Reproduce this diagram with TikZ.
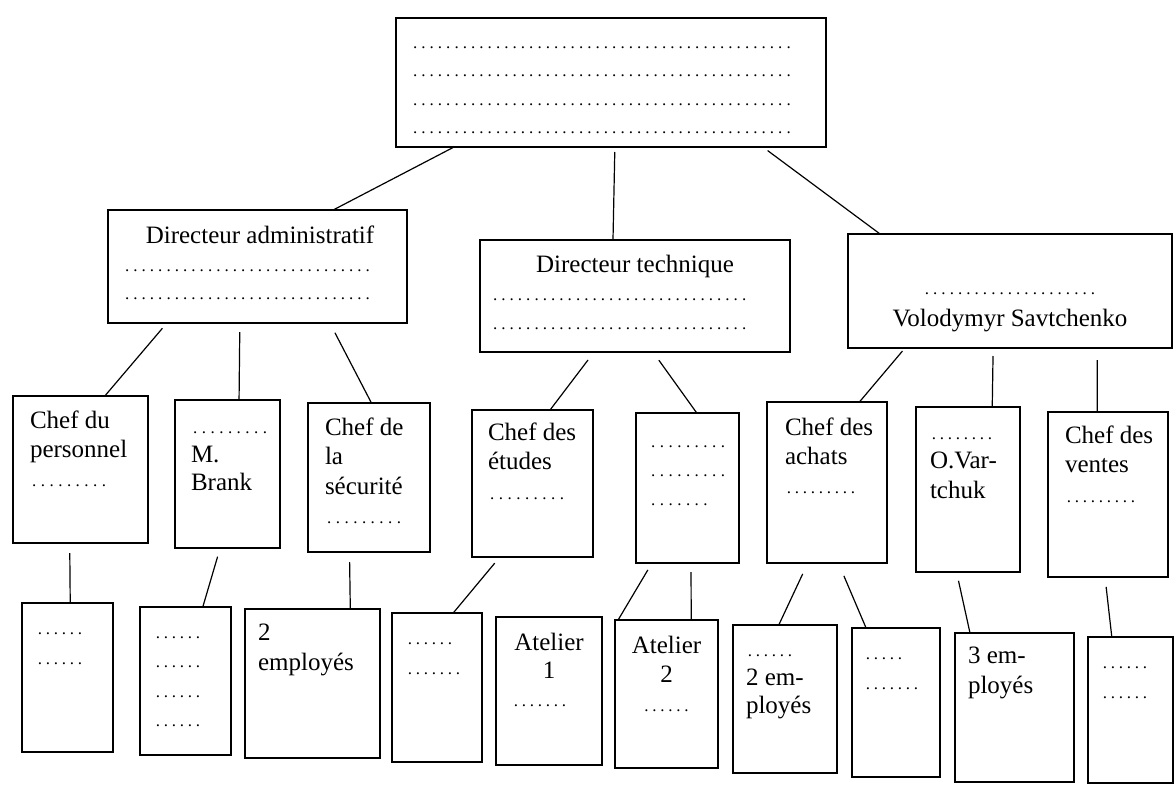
\documentclass[tikz,border=0pt]{standalone}
\usepackage{fontspec}
\setmainfont{Liberation Serif}
\usetikzlibrary{calc}
% a row of n dots with a given pitch
\newcommand\dl[2][8.3]{\leavevmode\hbox to \dimexpr#1pt*#2\relax{\fontsize{17}{20}\selectfont\leaders\hbox to #1pt{\hss.\hss}\hfill}}
% left layout: left indent, first baseline from top, line spacing
\newcommand\lay[3]{\fontsize{25}{#3}\selectfont\leftskip=#1pt\relax\vspace*{\dimexpr#2pt-\ht\strutbox\relax}}
% centred layout: first baseline from top, line spacing
\newcommand\layc[2]{\fontsize{25}{#2}\selectfont\centering\vspace*{\dimexpr#1pt-\ht\strutbox\relax}}
\tikzset{
  box/.style={draw, line width=1.3pt, inner sep=0pt, outer sep=0pt, anchor=north west},
  conn/.style={line width=1.2pt}
}
\newcommand\bx[6]{\node[box] (#1) at (#2,#3) {\parbox[c][\dimexpr#5pt-#3pt\relax][t]{\dimexpr#4pt-#2pt\relax}{#6}};}
\newcommand\conn[5]{\draw[conn, shorten <=#5pt] ($(#1.south west)!#2!(#1.south east)$) -- ($(#3.north west)!#4!(#3.north east)$);}
\begin{document}
\begin{tikzpicture}[x=1pt, y=-1pt]
\useasboundingbox (0,0) rectangle (1175,785);
% top
\bx{top}{396}{18}{826}{147}{\lay{15}{30.5}{28.3}\strut\dl{46}\\\dl{46}\\\dl{46}\\\dl{46}}
% level 1
\bx{admin}{108}{210}{407}{323}{\lay{15}{33}{28}\strut\makebox[274pt]{Directeur administratif}\\\dl{30}\\\dl{30}}
\bx{tech}{480}{240}{790}{352}{\lay{11}{32}{28.75}\strut\makebox[288pt]{Directeur technique}\\\dl{31}\\\dl{31}}
\bx{volo}{848}{234}{1172}{348}{\layc{60}{32}\strut\dl{21}\\Volodymyr Savtchenko}
% level 2
\bx{pers}{13}{396}{148}{543}{\lay{17}{32}{29}\strut Chef du\\personnel\\\dl[8.7]{9}}
\bx{brank}{175}{400}{280}{548}{\lay{16}{33.5}{28.5}\strut\dl[8.7]{9}\\M.\\Brank}
\bx{secu}{308}{403}{430}{552}{\lay{17}{32}{29.5}\strut Chef de\\la\\sécurité\\\dl[8.7]{9}}
\bx{etud}{472}{410}{593}{557}{\lay{16}{30}{29.5}\strut Chef des\\études\\\dl[8.7]{9}}
\bx{dots1}{636}{413}{739}{563}{\lay{13}{34}{29}\strut\dl[8.7]{9}\\\dl[8.7]{9}\\\dl[8.7]{7}}
\bx{ach}{767}{402}{887}{563}{\lay{18}{33}{29}\strut Chef des\\achats\\\dl[8]{9}}
\bx{ovar}{916}{407}{1020}{572}{\lay{14}{32}{29.5}\strut\dl[8]{8}\\O.Var-\\tchuk}
\bx{vent}{1048}{412}{1168}{577}{\lay{17}{31}{29.5}\strut Chef des\\ventes\\\dl[8]{9}}
% level 3
\bx{b1}{22}{603}{113}{752}{\lay{14}{31.5}{30}\strut\dl[8]{6}\\\dl[8]{6}}
\bx{b2}{140}{607}{231}{755}{\lay{14}{31.5}{29.3}\strut\dl[8]{6}\\\dl[8]{6}\\\dl[8]{6}\\\dl[8]{6}}
\bx{b3}{245}{609}{380}{758}{\lay{13}{31}{30}\strut 2\\employés}
\bx{b4}{392}{613}{482}{762}{\lay{14}{31.5}{30}\strut\dl[8]{6}\\\dl[8]{7}}
\bx{at1}{496}{617}{602}{765}{\layc{33}{28}\strut Atelier\\1\\\makebox[74pt][l]{\dl[8]{7}}}
\bx{at2}{615}{620}{718}{768}{\layc{33}{29}\strut Atelier\\2\\\dl[8]{6}}
\bx{e2}{733}{625}{837}{773}{\lay{13}{31.5}{28.5}\strut\dl[8]{6}\\2 em-\\ployés}
\bx{d2}{852}{628}{940}{777}{\lay{12}{31.5}{30}\strut\dl[8]{5}\\\dl[8]{7}}
\bx{e3}{955}{633}{1074}{782}{\lay{13}{30}{30}\strut 3 em-\\ployés}
\bx{b5}{1088}{637}{1173}{783}{\lay{13}{31.5}{30}\strut\dl[8]{6}\\\dl[8]{6}}
% connectors
\conn{top}{0.135}{admin}{0.753}{1}
\conn{top}{0.509}{tech}{0.429}{5}
\conn{top}{0.853}{volo}{0.099}{6}
\conn{admin}{0.197}{pers}{0.68}{7}
\conn{admin}{0.441}{brank}{0.61}{9}
\conn{admin}{0.742}{secu}{0.52}{11}
\conn{tech}{0.368}{etud}{0.645}{10}
\conn{tech}{0.558}{dots1}{0.59}{10}
\conn{volo}{0.176}{ach}{0.77}{4}
\conn{volo}{0.448}{ovar}{0.733}{8}
\conn{volo}{0.769}{vent}{0.41}{12}
\conn{pers}{0.42}{b1}{0.53}{10}
\conn{brank}{0.43}{b2}{0.69}{9}
\conn{secu}{0.34}{b3}{0.78}{10}
\conn{etud}{0.23}{b4}{0.68}{8}
\conn{dots1}{0.155}{at2}{0.03}{8}
\conn{dots1}{0.534}{at2}{0.74}{9}
\conn{ach}{0.34}{e2}{0.44}{12}
\conn{ach}{0.595}{d2}{0.16}{14}
\conn{ovar}{0.39}{e3}{0.126}{9}
\conn{vent}{0.475}{b5}{0.28}{10}
\end{tikzpicture}
\end{document}
